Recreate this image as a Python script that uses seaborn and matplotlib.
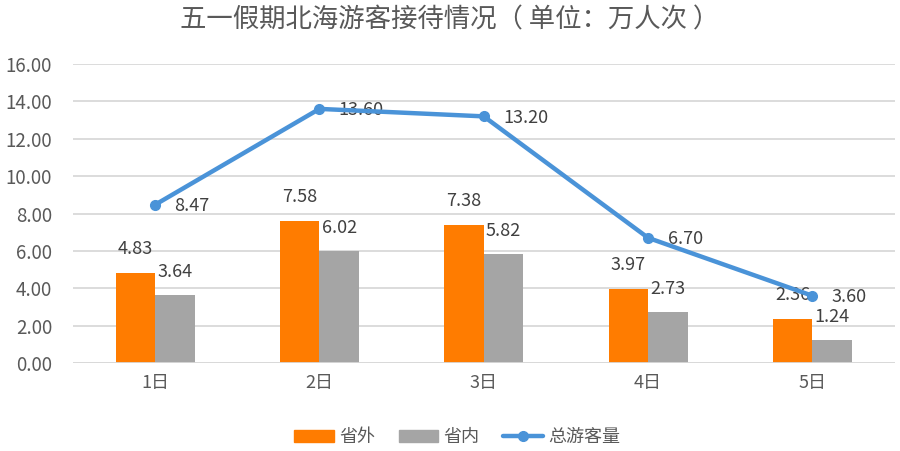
import matplotlib
matplotlib.use("Agg")
import matplotlib.pyplot as plt
import seaborn as sns
import pandas as pd
from matplotlib.lines import Line2D
from matplotlib.patches import Patch

days = ["1日", "2日", "3日", "4日", "5日"]
outside = [4.83, 7.58, 7.38, 3.97, 2.36]
inside = [3.64, 6.02, 5.82, 2.73, 1.24]
total = [8.47, 13.60, 13.20, 6.70, 3.60]
series_names = ["省外", "省内", "总游客量"]
yticks = [0, 2, 4, 6, 8, 10, 12, 14, 16]

c_orange = "#FF7C00"
c_gray = "#A5A5A5"
c_blue = "#4A93D8"

sns.set_theme(style="white")
plt.rcParams["font.family"] = ["Noto Sans CJK SC", "DejaVu Sans"]

df = pd.DataFrame({
    "day": days * 2,
    "value": outside + inside,
    "series": [series_names[0]] * 5 + [series_names[1]] * 5,
})

fig = plt.figure(figsize=(9, 4.51), dpi=100)
ax = fig.add_axes([0.081, 0.195, 0.913, 0.663])

sns.barplot(data=df, x="day", y="value", hue="series", order=days,
            hue_order=series_names[:2], palette=[c_orange, c_gray],
            width=0.48, gap=0, dodge=True, ax=ax, legend=False,
            saturation=1, errorbar=None, linewidth=0, edgecolor="none")

xs = list(range(len(days)))
ax.plot(xs, total, color=c_blue, lw=3.2, marker="o", ms=7, zorder=5)

# labels
bw = 0.24
lab_fs = 13
for i in xs:
    ax.annotate(f"{outside[i]:.2f}", (i - bw / 2, outside[i]), xytext=(0, 11),
                textcoords="offset points", ha="center", va="bottom",
                fontsize=lab_fs, color="#404040")
    ax.annotate(f"{inside[i]:.2f}", (i + bw / 2, inside[i]), xytext=(0, 10),
                textcoords="offset points", ha="center", va="bottom",
                fontsize=lab_fs, color="#404040")
    ax.annotate(f"{total[i]:.2f}", (i, total[i]), xytext=(14, -1),
                textcoords="offset points", ha="left", va="center",
                fontsize=lab_fs, color="#404040")

ax.set_xlim(-0.5, 4.5)
ax.set_ylim(0, 16)
ax.set_yticks(yticks)
ax.set_yticklabels([f"{v:.2f}" for v in yticks])
ax.yaxis.grid(True, color="#D9D9D9", lw=1.3)
ax.set_axisbelow(True)
for s in ax.spines.values():
    s.set_visible(False)
ax.axhline(0, color="#D9D9D9", lw=1.3, zorder=1)
ax.tick_params(axis="y", length=0, pad=15, labelsize=13.5, labelcolor="#595959")
ax.tick_params(axis="x", length=0, pad=8, labelsize=13, labelcolor="#595959")
ax.set_xlabel("")
ax.set_ylabel("")

fig.text(0.5, 0.955, "五一假期北海游客接待情况（ 单位：万人次 ）", ha="center", va="center",
         fontsize=19, color="#595959")

handles = [Patch(color=c_orange), Patch(color=c_gray),
           Line2D([0], [0], color=c_blue, lw=3.2, marker="o", ms=7)]
fig.legend(handles, series_names, loc="center", bbox_to_anchor=(0.508, 0.03),
           ncol=3, frameon=False, fontsize=13, labelcolor="#595959",
           handlelength=2.2, handleheight=0.7, columnspacing=1.3, handletextpad=0.3)

fig.savefig("out.png", dpi=100)
